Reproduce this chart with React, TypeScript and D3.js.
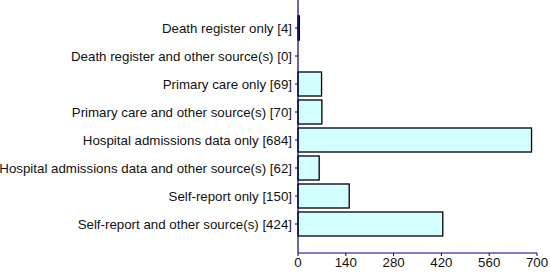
import React from "react";
import * as d3 from "d3";

const categories = [
  "Death register only [4]",
  "Death register and other source(s) [0]",
  "Primary care only [69]",
  "Primary care and other source(s) [70]",
  "Hospital admissions data only [684]",
  "Hospital admissions data and other source(s) [62]",
  "Self-report only [150]",
  "Self-report and other source(s) [424]",
];
const values = [4, 0, 69, 70, 684, 62, 150, 424];
const xTicks = [0, 140, 280, 420, 560, 700];

const W = 550;
const H = 276;
const x0 = 298;
const x1 = 537;
const yAxisBottom = 253;

export default function App() {
  const x = d3.scaleLinear().domain([0, 700]).range([x0, x1]);
  const y = d3
    .scaleBand<string>()
    .domain(categories)
    .range([14, 238])
    .paddingInner(4 / 28)
    .paddingOuter(2 / 28);
  const axisColor = "#000080";
  const font = "Arial, 'Liberation Sans', sans-serif";
  return (
    <svg
      width={W}
      height={H}
      style={{ position: "absolute", left: 0, top: 0 }}
    >
      <rect x={0} y={0} width={W} height={H} fill="#fff" />
      {categories.map((c, i) => {
        const yy = y(c)!;
        const w = x(values[i]) - x(0);
        return (
          <g key={c}>
            {values[i] > 0 && (
              <rect
                x={x(0)}
                y={yy}
                width={w}
                height={y.bandwidth()}
                fill="#d4ffff"
                stroke="#000"
                strokeWidth={1.3}
              />
            )}
            <line
              x1={x0 - 3}
              x2={x0}
              y1={yy + y.bandwidth() / 2}
              y2={yy + y.bandwidth() / 2}
              stroke={axisColor}
            />
            <text
              x={292}
              y={yy + y.bandwidth() / 2}
              dy="0.35em"
              textAnchor="end"
              fontFamily={font}
              fontSize={13.3}
              fill="#111"
            >
              {c}
            </text>
          </g>
        );
      })}
      <line x1={x0} x2={x0} y1={0} y2={yAxisBottom} stroke={axisColor} strokeWidth={1.2} />
      <line x1={x0} x2={x1} y1={yAxisBottom} y2={yAxisBottom} stroke={axisColor} strokeWidth={1.2} />
      {xTicks.map((t) => (
        <g key={t}>
          <line x1={x(t)} x2={x(t)} y1={yAxisBottom} y2={yAxisBottom + 3} stroke={axisColor} />
          <text
            x={x(t)}
            y={266.5}
            textAnchor="middle"
            fontFamily={font}
            fontSize={13.3}
            fill="#111"
          >
            {t}
          </text>
        </g>
      ))}
    </svg>
  );
}
